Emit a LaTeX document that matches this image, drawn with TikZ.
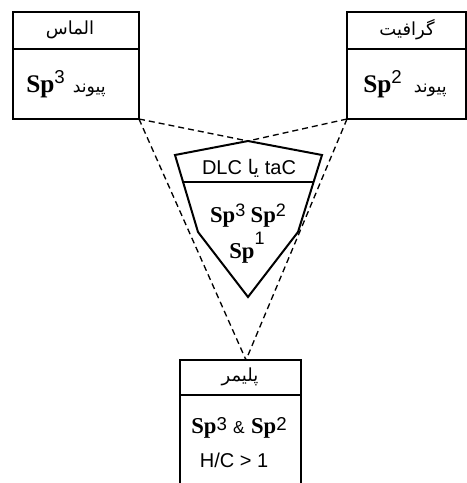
\documentclass[tikz,border=0pt]{standalone}
\usepackage{fontspec}
\setmainfont{Liberation Sans}
\newfontfamily\fa[Script=Arabic]{DejaVu Sans}
\newfontfamily\tnr{Liberation Serif}
\TeXXeTstate=1
\usetikzlibrary{positioning}

\newcommand{\hyb}[3]{{\tnr\bfseries Sp}\raisebox{#3}{\fontsize{#2}{#2}\selectfont#1}}

\tikzset{
  box/.style={draw, line width=1.5pt, outer sep=0pt, inner sep=0pt},
  dashline/.style={line width=1pt, dash pattern=on 4.5pt off 3pt},
  fatxt/.style={font=\fa\fontsize{13.5}{15}\selectfont, inner sep=0pt},
  bigsp/.style={font=\fontsize{19}{21}\selectfont, inner sep=0pt, anchor=base},
  midsp/.style={font=\fontsize{17}{19}\selectfont, inner sep=0pt, anchor=base},
  sans/.style={font=\fontsize{15}{17}\selectfont, inner sep=0pt}
}

\begin{document}
\begin{tikzpicture}[x=0.75pt, y=-0.75pt]
  \useasboundingbox (0,0) rectangle (467,483);

  \node[box, minimum width=94.5pt, minimum height=27.75pt] (lh) at (76,30.5) {};
  \node[box, minimum width=94.5pt, minimum height=52.5pt, below=0pt of lh] (lb) {};
  \node[fatxt] (lht) at (70,30) {\beginR الماس\endR};
  \node[bigsp] (lbt) at (66,92) {\hyb{3}{14pt}{6.5pt}\hspace{6pt}{\fa\fontsize{13}{15}\selectfont\beginR پیوند\endR}};

  \node[box, minimum width=89.25pt, minimum height=27.75pt] (rh) at (406.5,30.5) {};
  \node[box, minimum width=89.25pt, minimum height=52.5pt, below=0pt of rh] (rb) {};
  \node[fatxt] (rht) at (407,30) {\beginR گرافیت\endR};
  \node[bigsp] (rbt) at (405,92) {\hyb{2}{14pt}{6.5pt}\hspace{9pt}{\fa\fontsize{13}{15}\selectfont\beginR پیوند\endR}};

  \coordinate (t) at (248,141);
  \coordinate (tl) at (175,155);
  \coordinate (tr) at (322,155);
  \coordinate (br) at (298,232);
  \coordinate (bt) at (248,297);
  \coordinate (bl) at (198,232);
  \coordinate (dl) at (183,182);
  \coordinate (dr) at (314,182);
  \draw[line width=1.5pt] (tl) -- (t) -- (tr) -- (br) -- (bt) -- (bl) -- cycle;
  \draw[line width=1.5pt] (dl) -- (dr);
  \node[sans] (ptt) at (249,168) {DLC {\fa\beginR یا\endR} taC};
  \node[midsp] (pt1) at (248,222) {\hyb{3}{13.5pt}{4pt}\hspace{4pt}\hyb{2}{13.5pt}{4pt}};
  \node[midsp] (pt2) at (247,258) {\hyb{1}{13.5pt}{10pt}};

  \node[box, minimum width=90.75pt, minimum height=26.25pt] (ph) at (240.5,377.5) {};
  \coordinate (pl) at (180,484);
  \coordinate (pr) at (301,484);
  \draw[line width=1.5pt] (ph.south west) -- (pl);
  \draw[line width=1.5pt] (ph.south east) -- (pr);
  \node[fatxt] (pht) at (240,377) {\beginR پلیمر\endR};
  \node[midsp] (pb1) at (239,433) {\hyb{3}{14pt}{2pt}\ {\fontsize{13}{15}\selectfont\&}\ \hyb{2}{14pt}{2pt}};
  \node[sans] (pb2) at (234,460) {H/C > 1};

  \coordinate (v) at (246,360);
  \draw[dashline] (lb.south east) -- (t);
  \draw[dashline] (rb.south west) -- (t);
  \draw[dashline] (lb.south east) -- (v);
  \draw[dashline] (rb.south west) -- (v);
\end{tikzpicture}
\end{document}
